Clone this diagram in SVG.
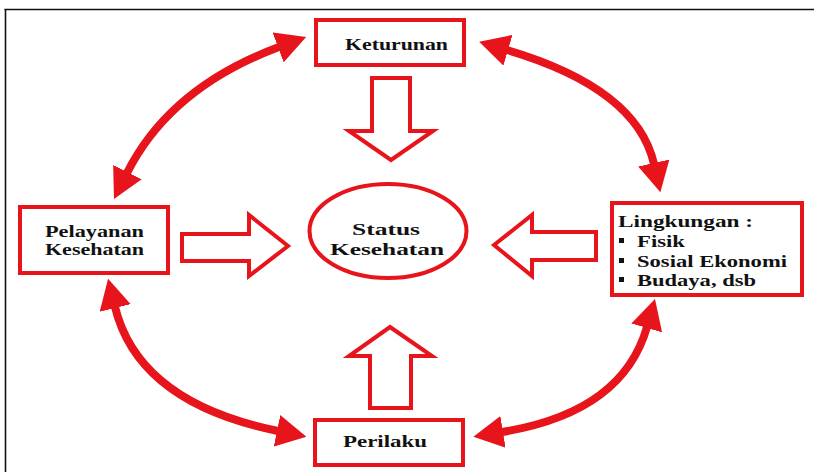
<svg xmlns="http://www.w3.org/2000/svg" width="814" height="472" viewBox="0 0 814 472">
<defs>
<style>
.box{fill:#fff;stroke:#e8141c;stroke-width:4}
.blk{fill:#fff;stroke:#e8141c;stroke-width:4;stroke-linejoin:miter}
.conn{fill:none;stroke:#e8141c;stroke-width:8}
.t{font-family:"Liberation Serif","Times New Roman",serif;font-weight:bold;fill:#111;font-size:16px}
.frame{stroke:#111;stroke-width:1.6}
</style>
<marker id="ah" viewBox="0 0 30 32" markerUnits="userSpaceOnUse" markerWidth="30" markerHeight="32" refX="1" refY="16" orient="auto-start-reverse">
<path d="M0,0 L30,16 L0,32 z" fill="#e8141c"/>
</marker>
</defs>
<rect x="0" y="0" width="814" height="472" fill="#fff"/>
<line class="frame" x1="4.5" y1="9.5" x2="814" y2="9.5"/>
<line class="frame" x1="5.5" y1="9" x2="5.5" y2="472"/>

<g id="connectors">
<path class="conn" d="M279,47 Q170,87.5 127,173" marker-start="url(#ah)" marker-end="url(#ah)"/>
<path class="conn" d="M507,50 Q637,88.5 654,164" marker-start="url(#ah)" marker-end="url(#ah)"/>
<path class="conn" d="M647,327 Q622.5,412.5 502,432" marker-start="url(#ah)" marker-end="url(#ah)"/>
<path class="conn" d="M115,307 Q138.5,402.5 278,431" marker-start="url(#ah)" marker-end="url(#ah)"/>
<polygon class="blk" points="372,78 410,78 410,131 433,131 391,160 349,131 372,131"/>
<polygon class="blk" points="182,234 249,234 249,215 288,246 249,276 249,261 182,261"/>
<polygon class="blk" points="494,245 532,215 532,232 596,232 596,260 532,260 532,276"/>
<polygon class="blk" points="390,327 432,356 411,356 411,408 370,408 370,356 349,356"/>
</g>

<g id="keturunan">
<rect class="box" x="316" y="20" width="148" height="45"/>
<text class="t" x="345" y="50" font-size="17" textLength="103" lengthAdjust="spacingAndGlyphs">Keturunan</text>
</g>

<g id="pelayanan">
<rect class="box" x="20" y="207" width="148" height="66"/>
<text class="t" x="45" y="237" textLength="99" lengthAdjust="spacingAndGlyphs">Pelayanan</text>
<text class="t" x="45" y="255" textLength="99" lengthAdjust="spacingAndGlyphs">Kesehatan</text>
</g>

<g id="status">
<ellipse class="box" cx="388" cy="231" rx="78.5" ry="47"/>
<text class="t" x="352" y="235" font-size="18" textLength="68" lengthAdjust="spacingAndGlyphs">Status</text>
<text class="t" x="330" y="255" font-size="18" textLength="114" lengthAdjust="spacingAndGlyphs">Kesehatan</text>
</g>

<g id="lingkungan">
<rect class="box" x="612" y="203" width="190" height="92"/>
<text class="t" x="618" y="227" textLength="135" lengthAdjust="spacingAndGlyphs">Lingkungan :</text>
<rect x="619" y="238" width="5" height="5" fill="#111"/>
<text class="t" x="637" y="247" textLength="48" lengthAdjust="spacingAndGlyphs">Fisik</text>
<rect x="619" y="258" width="5" height="5" fill="#111"/>
<text class="t" x="637" y="267" textLength="150" lengthAdjust="spacingAndGlyphs">Sosial Ekonomi</text>
<rect x="619" y="277" width="5" height="5" fill="#111"/>
<text class="t" x="637" y="286" textLength="119" lengthAdjust="spacingAndGlyphs">Budaya, dsb</text>
</g>

<g id="perilaku">
<rect class="box" x="315" y="420" width="148" height="45"/>
<text class="t" x="343" y="447" textLength="84" lengthAdjust="spacingAndGlyphs">Perilaku</text>
</g>
</svg>
